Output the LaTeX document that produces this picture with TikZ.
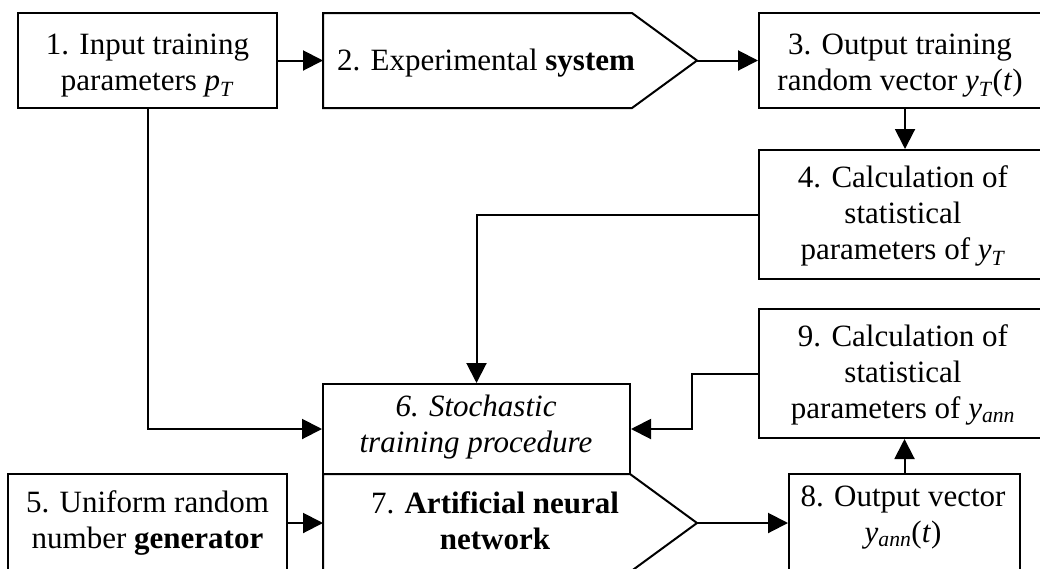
\documentclass[tikz,border=0pt]{standalone}
\usepackage{fontspec}
\setmainfont{Liberation Serif}
\usetikzlibrary{arrows.meta}
\newcommand{\mysub}[1]{\textsubscript{\textit{#1}}}
\begin{document}
\begin{tikzpicture}[x=1pt,y=-1pt, line width=2pt,
  box/.style={draw, rectangle, inner sep=0pt},
  txt/.style={font=\fontsize{31}{36}\selectfont, align=center, inner sep=0pt},
  arr/.style={-{Triangle[length=20pt,width=20pt]}}]
\useasboundingbox (0,0) rectangle (1040,568);
\clip (0,0) rectangle (1040,568);
% boxes
\node[box, minimum width=259pt, minimum height=95pt] (b1) at (147.5,60.5) {};
\draw (323,13) -- (632,13) -- (697,60.5) -- (632,108) -- (323,108) -- cycle;
\coordinate (b2w) at (323,60.5);
\coordinate (b2tip) at (697,60.5);
\node[box, minimum width=282pt, minimum height=95pt] (b3) at (900,60.5) {};
\node[box, minimum width=282pt, minimum height=129pt] (b4) at (900,214.5) {};
\node[box, minimum width=279pt, minimum height=98pt] (b5) at (147.5,523) {};
\node[box, minimum width=307pt, minimum height=90pt] (b6) at (476.5,429) {};
\draw (323,474) -- (630,474) -- (697,523) -- (630,572) -- (323,572) -- cycle;
\coordinate (b7w) at (323,523);
\coordinate (b7tip) at (697,523);
\node[box, minimum width=231pt, minimum height=98pt] (b8) at (904.5,523) {};
\node[box, minimum width=282pt, minimum height=129pt] (b9) at (900,373.5) {};
% texts
\node[txt] (t1) at (147.5,65.5) {1. Input training\\parameters \textit{p}\mysub{T}};
\node[txt] (t2) at (486,63) {2. Experimental \textbf{system}};
\node[txt] (t3) at (900,65.5) {3. Output training\\random vector \textit{y}\mysub{T}(\textit{t})};
\node[txt] (t4) at (903,216) {4. Calculation of\\statistical\\parameters of \textit{y}\mysub{T}};
\node[txt] (t5) at (147.5,522.5) {5. Uniform random\\number \textbf{generator}};
\node[txt] (t6) at (476,427) {\textit{6. Stochastic}\\\textit{training procedure}};
\node[txt] (t7) at (495,520.5) {7. \textbf{Artificial neural}\\\textbf{network}};
\node[txt] (t8) at (903,518) {8. Output vector\\\textit{y}\mysub{ann}(\textit{t})};
\node[txt] (t9) at (903,375) {9. Calculation of\\statistical\\parameters of \textit{y}\mysub{ann}};
% connectors
\coordinate (c34) at (905,0);
\draw[arr] (b1.east) -- (b2w);
\draw[arr] (b2tip) -- (b3.west);
\draw[arr] (b3.south -| c34) -- (b4.north -| c34);
\draw[arr] (b1.south) |- (b6.west);
\draw[arr] (b4.west) -| (b6.north);
\draw[arr] (b5.east) -- (b7w);
\draw[arr] (b7tip) -- (b8.west);
\draw[arr] (b8.north) -- (b8.north |- b9.south);
\draw[arr] (b9.west) -- ++(-66,0) |- (b6.east);
\end{tikzpicture}
\end{document}
